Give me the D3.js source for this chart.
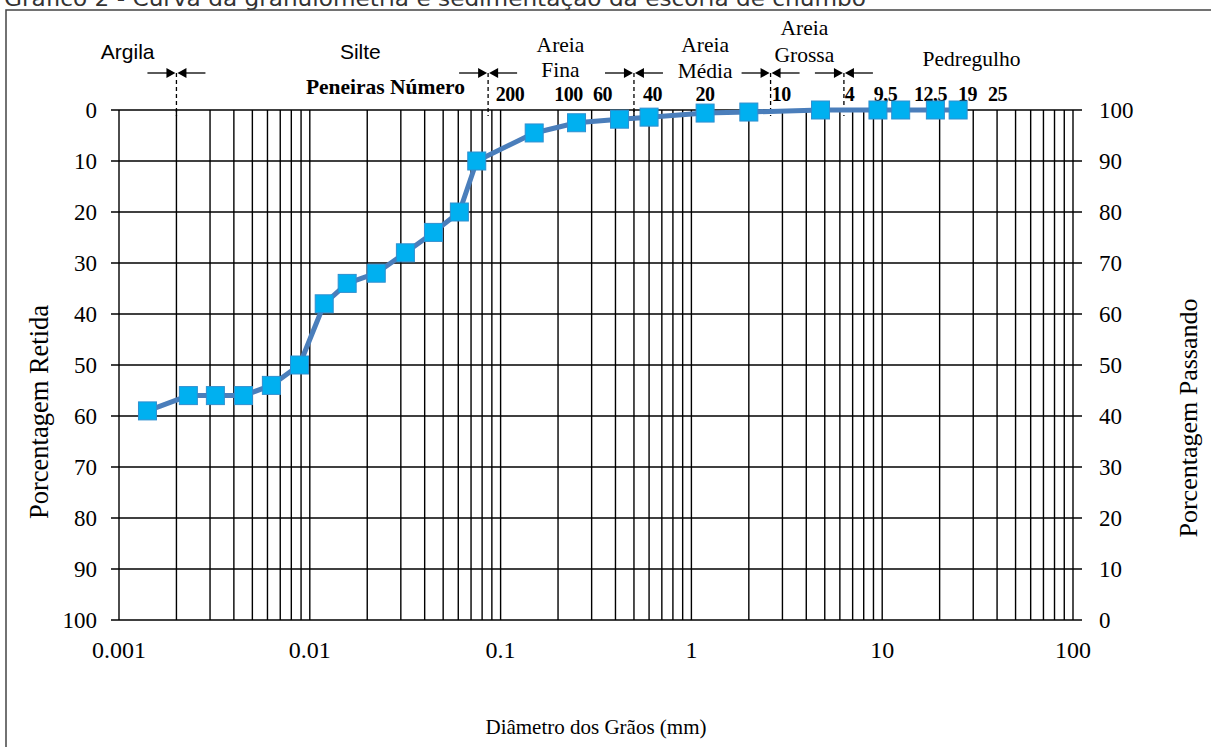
<!DOCTYPE html>
<html>
<head>
<meta charset="utf-8">
<script src="https://cdn.jsdelivr.net/npm/d3@7"></script>
<style>
  html, body { margin: 0; padding: 0; background: #fff; }
  svg { display: block; }
</style>
</head>
<body>
<svg id="chart" width="1211" height="747"></svg>
<script>
// Grain size distribution: sieve and sedimentation results
const diameters = [0.00141, 0.00231, 0.0032, 0.00449, 0.00629, 0.00883, 0.0119, 0.0157,
  0.0223, 0.0317, 0.0445, 0.0608, 0.075, 0.15, 0.25, 0.42, 0.6, 1.18, 2.0, 4.75, 9.5, 12.5, 19, 25];
const retained = [59, 56, 56, 56, 54, 50, 38, 34, 32, 28, 24, 20, 10, 4.5, 2.5, 1.8, 1.4, 0.6, 0.4, 0, 0, 0, 0, 0];

const xTickLabels = ["0.001", "0.01", "0.1", "1", "10", "100"];
const xTickValues = [0.001, 0.01, 0.1, 1, 10, 100];
const yTickValues = [0, 10, 20, 30, 40, 50, 60, 70, 80, 90, 100];

// Soil class boundaries (mm) and class names
const boundaries = [0.002, 0.086, 0.5, 2.6, 6.3];
const classNames = ["Argila", "Silte", "Areia\nFina", "Areia\nMédia", "Areia\nGrossa", "Pedregulho"];
const classAnchors = [0.00111, 0.0184, 0.206, 1.18, 3.91, 29.4];

// Sieve numbers written along the top of the grid
const sieveLabels = ["200", "100", "60", "40", "20", "10", "4", "9,5", "12,5", "19", "25"];
const sieveAnchors = [0.112, 0.2266, 0.342, 0.625, 1.18, 2.96, 6.73, 10.4, 17.9, 28.0, 40.2];

const svg = d3.select("#chart");
const serif = "'Liberation Serif', 'Times New Roman', serif";
const sans = "'Liberation Sans', Arial, sans-serif";

const x = d3.scaleLog().domain([0.001, 100]).range([119, 1073]);
const y = d3.scaleLinear().domain([0, 100]).range([110, 620]);
const yPass = d3.scaleLinear().domain([100, 0]).range([110, 620]);

// Outer frame and caption
svg.append("rect").attr("x", 6).attr("y", 10).attr("width", 1220).attr("height", 760)
  .attr("fill", "none").attr("stroke", "#444").attr("stroke-width", 1.5);
svg.append("text").attr("x", 4).attr("y", 6)
  .attr("font-family", "'DejaVu Sans', sans-serif").attr("font-size", 22).attr("fill", "#333")
  .attr("textLength", 862).attr("lengthAdjust", "spacingAndGlyphs")
  .text("Gráfico 2 - Curva da granulometria e sedimentação da escória de chumbo");

// Vertical log grid (1..9 per decade)
const grid = svg.append("g").attr("stroke", "#000").attr("stroke-width", 1.4);
grid.selectAll("line.v").data(x.ticks()).join("line").attr("class", "v")
  .attr("x1", d => x(d)).attr("x2", d => x(d))
  .attr("y1", y(0)).attr("y2", y(100));

// Horizontal grid, extended past both edges as tick marks
grid.selectAll("line.h").data(yTickValues).join("line").attr("class", "h")
  .attr("x1", x(0.001) - 8).attr("x2", x(100) + 9)
  .attr("y1", d => y(d)).attr("y2", d => y(d));

// Left axis: percentage retained
svg.append("g").selectAll("text").data(yTickValues).join("text")
  .attr("x", 97).attr("y", d => y(d)).attr("dy", "0.35em")
  .attr("text-anchor", "end").attr("font-family", serif).attr("font-size", 23)
  .text(d => d);

// Right axis: percentage passing
svg.append("g").selectAll("text").data(yTickValues).join("text")
  .attr("x", 1099).attr("y", d => yPass(d)).attr("dy", "0.35em")
  .attr("text-anchor", "start").attr("font-family", serif).attr("font-size", 23)
  .text(d => d);

// Bottom axis labels
svg.append("g").selectAll("text").data(xTickValues).join("text")
  .attr("x", d => x(d)).attr("y", 658)
  .attr("text-anchor", "middle").attr("font-family", serif).attr("font-size", 24)
  .text((d, i) => xTickLabels[i]);

// Axis titles
svg.append("text").attr("x", 596).attr("y", 734).attr("text-anchor", "middle")
  .attr("font-family", serif).attr("font-size", 21).text("Diâmetro dos Grãos (mm)");
svg.append("text").attr("transform", "translate(48,412) rotate(-90)").attr("text-anchor", "middle")
  .attr("font-family", serif).attr("font-size", 26.5).text("Porcentagem Retida");
svg.append("text").attr("transform", "translate(1197,418) rotate(-90)").attr("text-anchor", "middle")
  .attr("font-family", serif).attr("font-size", 26).text("Porcentagem Passando");

// Class boundaries: dashed line with converging arrows
const arrowY = 73;
const bnd = svg.append("g");
boundaries.forEach(b => {
  const bx = x(b);
  bnd.append("line").attr("x1", bx).attr("x2", bx).attr("y1", arrowY).attr("y2", 116)
    .attr("stroke", "#000").attr("stroke-width", 1.3).attr("stroke-dasharray", "4,3");
  [-1, 1].forEach(s => {
    bnd.append("line").attr("x1", bx + s * 29).attr("x2", bx + s * 8)
      .attr("y1", arrowY).attr("y2", arrowY).attr("stroke", "#000").attr("stroke-width", 1.3);
    bnd.append("path")
      .attr("d", `M${bx + s * 1},${arrowY} L${bx + s * 10},${arrowY - 5} L${bx + s * 10},${arrowY + 5} Z`)
      .attr("fill", "#000");
  });
});

// Class names
const classRows = [[59], [59], [52, 77], [52, 78], [35, 62], [66]];
classNames.forEach((name, i) => {
  const lines = name.split("\n");
  const isSans = i < 2;
  lines.forEach((ln, j) => {
    svg.append("text").attr("x", x(classAnchors[i])).attr("y", classRows[i][j])
      .attr("text-anchor", "middle")
      .attr("font-family", isSans ? sans : serif)
      .attr("font-size", isSans ? 21 : 21.5)
      .text(ln);
  });
});

svg.append("text").attr("x", x(0.0249)).attr("y", 94).attr("text-anchor", "middle")
  .attr("font-family", serif).attr("font-weight", "bold").attr("font-size", 21.5)
  .text("Peneiras Número");

svg.append("g").selectAll("text").data(sieveLabels).join("text")
  .attr("x", (d, i) => x(sieveAnchors[i])).attr("y", 101)
  .attr("text-anchor", "middle").attr("font-family", serif).attr("font-weight", "bold")
  .attr("font-size", 20).attr("letter-spacing", -0.5)
  .text(d => d);

// Grading curve
const pts = diameters.map((d, i) => [d, retained[i]]);
svg.append("path").datum(pts)
  .attr("d", d3.line().x(d => x(d[0])).y(d => y(d[1])))
  .attr("fill", "none").attr("stroke", "#4a7ebb").attr("stroke-width", 5)
  .attr("stroke-linejoin", "round");

const ms = 18;
svg.append("g").selectAll("rect").data(pts).join("rect")
  .attr("x", d => x(d[0]) - ms / 2).attr("y", d => y(d[1]) - ms / 2)
  .attr("width", ms).attr("height", ms)
  .attr("fill", "#00b0f0").attr("stroke", "#2f8fd0").attr("stroke-width", 1);
</script>
</body>
</html>
